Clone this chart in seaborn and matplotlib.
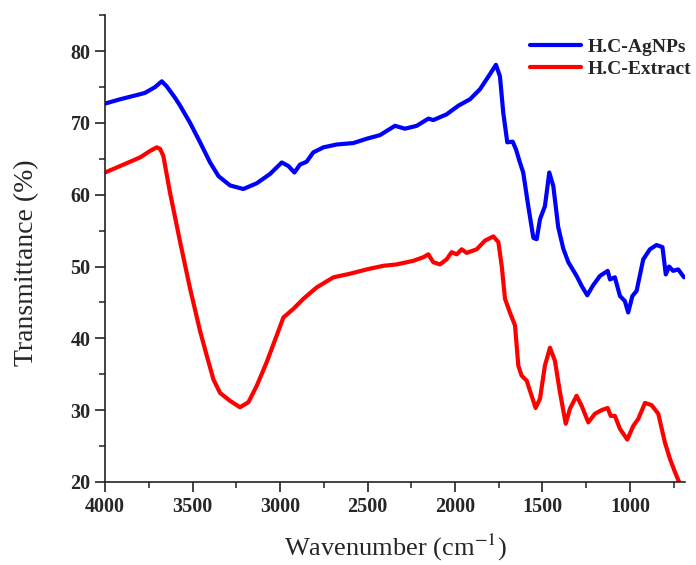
import numpy as np
import pandas as pd
import matplotlib
matplotlib.use("Agg")
import matplotlib.pyplot as plt
import seaborn as sns
from matplotlib.ticker import MultipleLocator

# FTIR spectra: wavenumber (cm^-1) and transmittance (%)
agnps_wn = [4000, 3914, 3800, 3771, 3714, 3676, 3648, 3600, 3571, 3514, 3457, 3400,
            3352, 3286, 3210, 3133, 3057, 2990, 2952, 2918, 2886, 2848, 2810, 2752,
            2676, 2581, 2505, 2429, 2343, 2286, 2219, 2152, 2124, 2048, 1981, 1914,
            1857, 1800, 1766, 1743, 1724, 1701, 1670, 1651, 1629, 1610, 1581, 1552,
            1533, 1514, 1486, 1461, 1438, 1410, 1381, 1352, 1305, 1276, 1244, 1210,
            1171, 1127, 1114, 1086, 1057, 1029, 1010, 986, 962, 924, 886, 848, 814,
            795, 776, 753, 724, 691]
agnps_t = [72.7, 73.3, 74.0, 74.2, 75.0, 75.8, 75.1, 73.5, 72.4, 70.0, 67.3, 64.5,
           62.6, 61.3, 60.8, 61.6, 62.9, 64.5, 64.0, 63.1, 64.2, 64.6, 65.9, 66.6,
           67.0, 67.2, 67.8, 68.3, 69.6, 69.2, 69.6, 70.6, 70.4, 71.2, 72.4, 73.3,
           74.7, 76.8, 78.1, 76.5, 71.4, 67.3, 67.4, 66.3, 64.5, 63.1, 58.4, 54.0,
           53.8, 56.6, 58.4, 63.1, 61.2, 55.5, 52.5, 50.6, 48.7, 47.3, 46.0, 47.4,
           48.7, 49.4, 48.2, 48.5, 45.9, 45.2, 43.6, 45.9, 46.6, 51.0, 52.4, 53.0, 52.7,
           48.9, 50.0, 49.4, 49.6, 48.5]

extract_wn = [4000, 3914, 3800, 3743, 3705, 3686, 3667, 3629, 3571, 3514, 3457, 3419,
              3381, 3343, 3286, 3229, 3181, 3133, 3076, 3019, 2981, 2924, 2867, 2790,
              2695, 2600, 2505, 2410, 2333, 2238, 2181, 2152, 2124, 2086, 2048, 2019,
              1990, 1962, 1933, 1876, 1829, 1781, 1752, 1733, 1714, 1686, 1657, 1638,
              1619, 1590, 1562, 1539, 1514, 1486, 1457, 1429, 1400, 1367, 1343, 1305,
              1276, 1238, 1200, 1162, 1127, 1110, 1086, 1057, 1015, 981, 952, 914, 876,
              838, 800, 771, 743, 719]
extract_t = [63.1, 64.0, 65.2, 66.1, 66.6, 66.4, 65.4, 60.3, 53.4, 46.9, 41.0, 37.6,
             34.3, 32.4, 31.3, 30.4, 31.1, 33.4, 36.7, 40.4, 42.9, 44.1, 45.5, 47.1,
             48.5, 49.0, 49.6, 50.1, 50.3, 50.8, 51.3, 51.7, 50.6, 50.3, 51.0, 52.0,
             51.7, 52.4, 51.9, 52.4, 53.6, 54.2, 53.4, 50.1, 45.5, 43.6, 41.8, 36.2,
             34.8, 34.1, 32.0, 30.3, 31.6, 36.2, 38.7, 36.9, 32.5, 28.1, 30.2, 32.0,
             30.6, 28.3, 29.5, 30.0, 30.3, 29.2, 29.2, 27.4, 25.9, 27.8, 28.8, 31.0, 30.7,
             29.5, 25.5, 23.2, 21.4, 20.0]

series_names = ["H.C-AgNPs", "H.C-Extract"]
series_colors = ["#0000FF", "#FF0000"]

df = pd.concat([
    pd.DataFrame({"wn": agnps_wn, "T": agnps_t, "sample": series_names[0]}),
    pd.DataFrame({"wn": extract_wn, "T": extract_t, "sample": series_names[1]}),
], ignore_index=True)

sns.set_style("ticks")
plt.rcParams["font.family"] = ["Liberation Serif", "DejaVu Serif"]
plt.rcParams["mathtext.fontset"] = "stix"

fig = plt.figure(figsize=(6.96, 5.65), dpi=100)
ax = fig.add_axes([0.151, 0.147, 0.833, 0.826])

sns.lineplot(data=df, x="wn", y="T", hue="sample", palette=series_colors,
             hue_order=series_names, sort=False, estimator=None,
             linewidth=3.0, ax=ax)

ax.set_xlim(4000, 686)
ax.set_ylim(20, 85)
ax.xaxis.set_major_locator(MultipleLocator(500))
ax.xaxis.set_minor_locator(MultipleLocator(250))
ax.yaxis.set_major_locator(MultipleLocator(10))
ax.yaxis.set_minor_locator(MultipleLocator(5))
ax.set_yticks([20, 30, 40, 50, 60, 70, 80])

for side in ("top", "right"):
    ax.spines[side].set_visible(False)
for side in ("left", "bottom"):
    ax.spines[side].set_linewidth(1.2)
    ax.spines[side].set_color("#222222")

ax.tick_params(which="major", direction="out", length=7, width=1.2, color="#222222",
               labelsize=14.5)
ax.tick_params(which="minor", direction="out", length=4, width=1.1, color="#222222")
for lbl in ax.get_xticklabels() + ax.get_yticklabels():
    lbl.set_fontweight("bold")

ax.set_xlabel("Wavenumber (cm$^{-1}$)", fontsize=19)
ax.xaxis.set_label_coords(0.5, -0.108)
ax.set_ylabel("Transmittance (%)", fontsize=20)
ax.yaxis.set_label_coords(-0.113, 0.469)

leg = ax.legend(loc="upper left", bbox_to_anchor=(0.733, 0.95), frameon=False,
                borderpad=0, borderaxespad=0,
                handlelength=2.6, handletextpad=0.35, labelspacing=0.2,
                prop={"weight": "bold", "size": 14})
for line in leg.get_lines():
    line.set_linewidth(3.0)

fig.savefig("out.png", dpi=100)
